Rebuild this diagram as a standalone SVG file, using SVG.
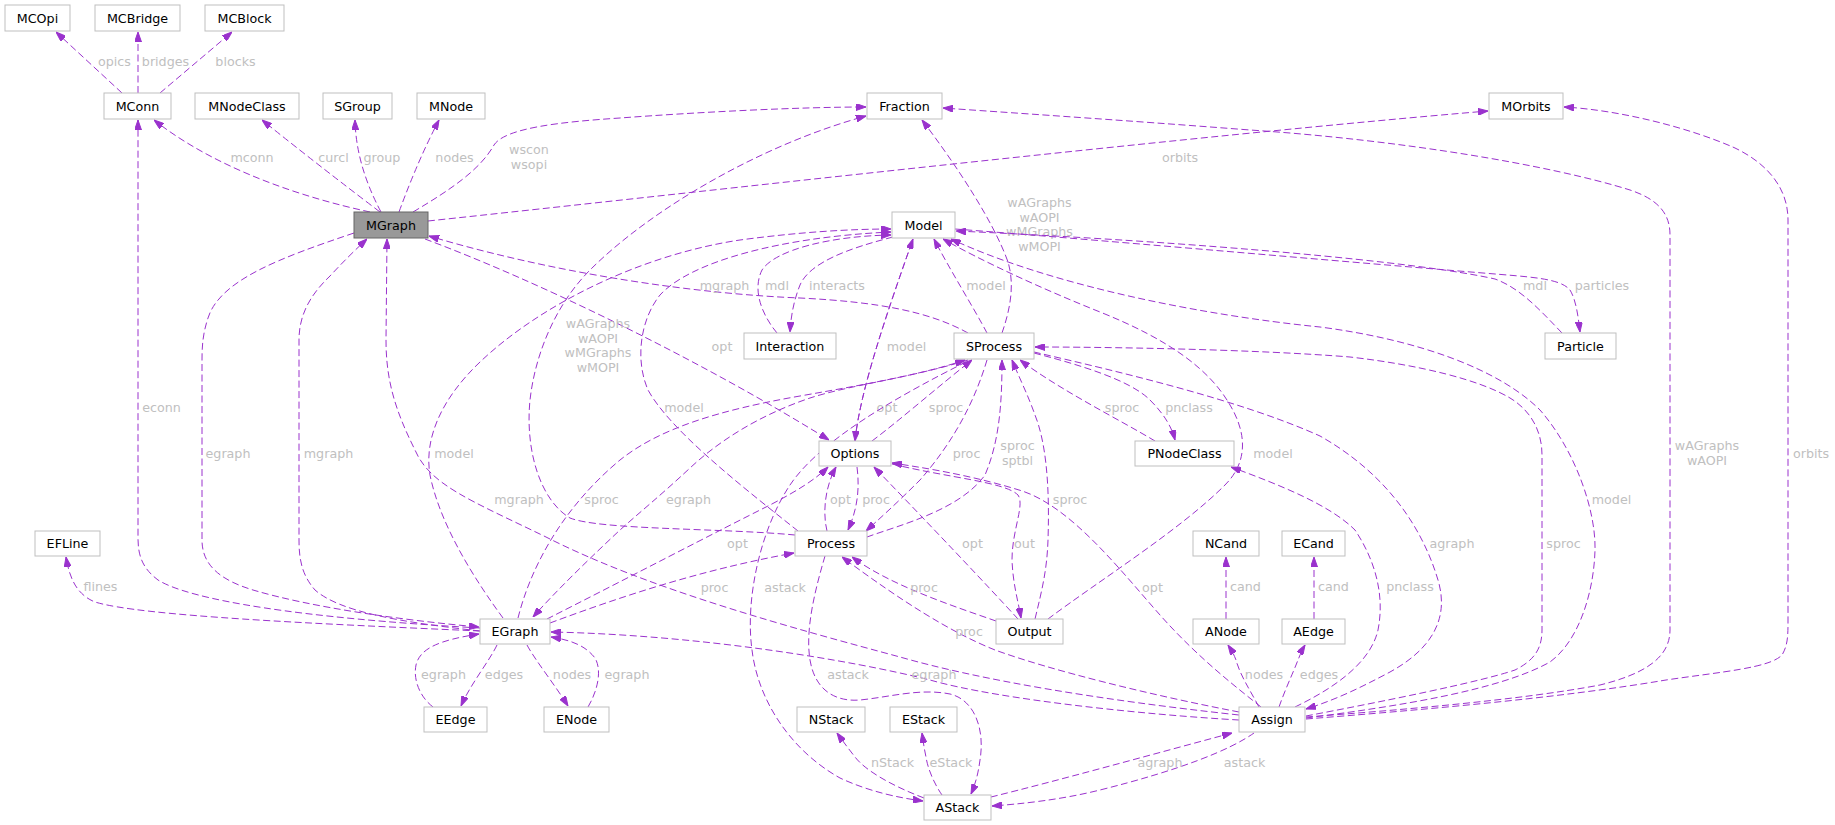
<svg xmlns="http://www.w3.org/2000/svg" width="1835" height="825" viewBox="0 0 1835 825">
<style>
.node rect{fill:#fff;stroke:#bfbfbf;stroke-width:1}
.node text{font-family:"DejaVu Sans",sans-serif;font-size:12.7px;fill:#000;text-anchor:middle}
#node-MGraph rect{fill:#999;stroke:#666}
.edge path{fill:none;stroke:#9a32cd;stroke-width:1;stroke-dasharray:7,3.5;marker-end:url(#arr)}
.edge path.rev{marker-end:none;marker-start:url(#arrS)}
.edge text{font-family:"DejaVu Sans",sans-serif;font-size:12.7px;fill:#c0c0c0;text-anchor:middle}
</style>
<defs>
<marker id="arr" viewBox="0 0 10 7" refX="10" refY="3.5" markerWidth="10" markerHeight="7" markerUnits="userSpaceOnUse" orient="auto"><path d="M0,0L10,3.5L0,7z" fill="#9a32cd" stroke="#9a32cd"/></marker>
<marker id="arrS" viewBox="0 0 10 7" refX="10" refY="3.5" markerWidth="10" markerHeight="7" markerUnits="userSpaceOnUse" orient="auto-start-reverse"><path d="M0,0L10,3.5L0,7z" fill="#9a32cd" stroke="#9a32cd"/></marker>
</defs>
<rect width="1835" height="825" fill="#fff"/>
<g id="edges">
<g class="edge"><path d="M122,93 L56,32"/><text x="114.5" y="65.5">opics</text></g>
<g class="edge"><path d="M138,93 L138,32"/><text x="165.5" y="65.5">bridges</text></g>
<g class="edge"><path d="M160,93 L232,32"/><text x="235.5" y="65.5">blocks</text></g>
<g class="edge"><path d="M370,212 C300,197 215,168 154,120"/><text x="252" y="161.5">mconn</text></g>
<g class="edge"><path d="M380,212 Q318,165 262,120"/><text x="333.5" y="161.5">curcl</text></g>
<g class="edge"><path d="M381,212 Q356,165 355,120"/><text x="382" y="161.5">group</text></g>
<g class="edge"><path d="M399,212 Q418,160 439,120"/><text x="454.5" y="161.5">nodes</text></g>
<g class="edge"><path d="M413,212 C450,190 480,170 494,145 C505,128 560,122 620,118 C700,112 800,107 866,107"/><text x="529" y="153.5">wscon</text><text x="529" y="168.5">wsopi</text></g>
<g class="edge"><path d="M428,221 C700,192 1200,135 1488,111"/><text x="1180" y="161.5">orbits</text></g>
<g class="edge"><path d="M425,239 C540,282 700,360 829,440"/><text x="722" y="350.5">opt</text></g>
<g class="edge"><path d="M480,628 C300,618 190,600 158,580 C142,568 138,555 138,538 L138,120"/><text x="161.5" y="411.5">econn</text></g>
<g class="edge"><path d="M354,233 C280,258 220,280 208,318 C203,333 202,345 202,360 L202,540 C202,565 220,580 253,590 C310,607 400,620 479,627"/><text x="228" y="457.5">egraph</text></g>
<g class="edge"><path d="M480,631 C400,622 340,612 315,590 C302,575 299,560 299,540 L299,340 C299,315 310,295 330,276 C342,263 355,250 367,239"/><text x="328.5" y="457.5">mgraph</text></g>
<g class="edge"><path d="M480,631 C320,624 140,616 95,602 C75,594 69,575 66,557"/><text x="100.5" y="590.5">flines</text></g>
<g class="edge"><path d="M503,618 C475,580 440,525 430,475 C424,440 440,400 480,362 C540,305 640,255 740,240 C800,232 850,229 891,229"/><text x="454" y="457.5">model</text></g>
<g class="edge"><path d="M798,531 C740,485 670,430 648,390 C635,360 640,320 660,295 C690,262 780,237 891,232"/><text x="684" y="411.5">model</text></g>
<g class="edge"><path d="M777,333 C762,315 752,290 762,270 C775,250 830,236 891,235"/><text x="777" y="289.5">mdl</text></g>
<g class="edge"><path d="M893,237 C850,248 810,262 800,285 C794,300 791,315 790,332"/><text x="837" y="289.5">interacts</text></g>
<g class="edge"><path d="M968,333 C930,312 880,302 800,298 C700,294 560,275 429,236"/><text x="724.5" y="289.5">mgraph</text></g>
<g class="edge"><path d="M987,333 C975,310 950,270 934,239"/><text x="986" y="289.5">model</text></g>
<g class="edge"><path d="M1002,333 C1010,310 1015,285 1008,262 C995,225 960,170 922,120"/><text x="1039.5" y="206.5">wAGraphs</text><text x="1039.5" y="221.5">wAOPI</text><text x="1039.5" y="235.5">wMGraphs</text><text x="1039.5" y="250.5">wMOPI</text></g>
<g class="edge"><path d="M795,535 C720,528 600,530 570,518 C540,500 525,450 530,400 C535,355 555,305 590,270 C650,210 760,145 866,116"/><text x="598" y="327.5">wAGraphs</text><text x="598" y="342.5">wAOPI</text><text x="598" y="357">wMGraphs</text><text x="598" y="371.5">wMOPI</text></g>
<g class="edge"><path d="M855,441 C860,390 888,310 913,239"/><text x="906.5" y="350.5">model</text></g>
<g class="edge"><path class="rev" d="M855,441 C860,390 888,310 913,239"/><text x="887" y="411.5">opt</text></g>
<g class="edge"><path d="M872,441 C900,420 940,385 972,360"/><text x="946" y="411.5">sproc</text></g>
<g class="edge"><path d="M518,618 C530,570 560,510 620,460 C660,428 720,410 800,396 C880,382 930,372 965,360"/><text x="601.5" y="503.5">sproc</text></g>
<g class="edge"><path d="M968,360 C910,378 850,385 810,398 C760,415 720,440 690,468 C660,496 640,512 620,530 C590,558 555,592 533,617"/><text x="688.5" y="503.5">egraph</text></g>
<g class="edge"><path d="M966,362 C900,395 820,440 790,485 C760,530 745,600 752,650 C758,700 790,750 840,778 C870,792 900,798 923,801"/><text x="785" y="591.5">astack</text></g>
<g class="edge"><path d="M825,556 C815,590 805,630 810,660 C815,690 835,702 860,700 C890,697 920,688 950,694 C975,700 985,730 980,760 C978,775 975,785 971,794"/><text x="848" y="678.5">astack</text></g>
<g class="edge"><path d="M827,531 C822,510 826,485 836,467"/><text x="840.5" y="503.5">opt</text></g>
<g class="edge"><path d="M857,467 C860,490 857,510 848,530"/><text x="876" y="503.5">proc</text></g>
<g class="edge"><path d="M987,360 C975,400 955,440 920,480 C895,505 878,520 866,531"/><text x="966.5" y="457.5">proc</text></g>
<g class="edge"><path d="M867,537 C900,525 960,510 985,475 C1000,440 1002,400 1002,360"/><text x="1017.5" y="449.5">sproc</text><text x="1017.5" y="464.5">sptbl</text></g>
<g class="edge"><path d="M1034,353 C1080,365 1130,380 1150,400 C1165,415 1172,428 1175,440"/><text x="1189" y="411.5">pnclass</text></g>
<g class="edge"><path d="M1155,441 C1120,420 1060,390 1020,360"/><text x="1122" y="411.5">sproc</text></g>
<g class="edge"><path d="M1035,619 C1042,590 1047,570 1048,540 C1050,480 1045,440 1035,415 C1028,395 1018,375 1012,360"/><text x="1070" y="503.5">sproc</text></g>
<g class="edge"><path d="M892,464 C950,478 1005,482 1018,495 C1025,505 1012,530 1012,560 C1013,585 1018,600 1021,618"/><text x="1024.5" y="547.5">out</text></g>
<g class="edge"><path d="M1018,619 C985,583 930,525 874,467"/><text x="972.5" y="547.5">opt</text></g>
<g class="edge"><path d="M996,621 C950,605 890,585 852,557"/><text x="924" y="591.5">proc</text></g>
<g class="edge"><path d="M1239,712 C1150,695 1050,670 995,650 C950,632 900,600 842,557"/><text x="969" y="635.5">proc</text></g>
<g class="edge"><path d="M550,623 C620,597 700,570 794,553"/><text x="714.5" y="591.5">proc</text></g>
<g class="edge"><path d="M547,619 C620,582 720,530 770,505 C795,492 815,480 828,467"/><text x="737.5" y="547.5">opt</text></g>
<g class="edge"><path d="M1239,720 C1150,715 1000,700 930,680 C850,660 700,635 551,632"/><text x="934" y="678.5">egraph</text></g>
<g class="edge"><path d="M1239,715 C1100,700 980,680 900,657 C800,630 650,590 546,537 C470,500 430,485 415,450 C395,410 386,380 386,340 L387,239"/><text x="519" y="503.5">mgraph</text></g>
<g class="edge"><path d="M1254,733 C1230,750 1180,770 1100,790 C1060,800 1020,804 992,806"/><text x="1244.5" y="766.5">astack</text></g>
<g class="edge"><path d="M991,797 C1060,780 1150,755 1232,733"/><text x="1160" y="766.5">agraph</text></g>
<g class="edge"><path d="M924,798 C890,785 865,770 855,757 C848,748 842,740 837,733"/><text x="892.5" y="766.5">nStack</text></g>
<g class="edge"><path d="M942,795 C935,785 928,770 926,757 C924,748 923,740 922,733"/><text x="951" y="766.5">eStack</text></g>
<g class="edge"><path d="M1226,619 L1226,557"/><text x="1245.5" y="590.5">cand</text></g>
<g class="edge"><path d="M1314,619 L1314,557"/><text x="1333.5" y="590.5">cand</text></g>
<g class="edge"><path d="M1259,707 C1250,690 1240,675 1236,660 C1233,652 1230,648 1228,645"/><text x="1264" y="678.5">nodes</text></g>
<g class="edge"><path d="M1279,707 C1285,690 1292,675 1296,665 C1300,655 1302,650 1305,645"/><text x="1319" y="678.5">edges</text></g>
<g class="edge"><path d="M1306,716 C1380,702 1480,682 1515,670 C1535,660 1542,648 1542,630 L1542,455 C1542,430 1530,410 1510,398 C1480,380 1420,365 1350,357 C1250,349 1100,347 1035,347"/><text x="1563.5" y="547.5">sproc</text></g>
<g class="edge"><path d="M1306,718 C1400,706 1500,690 1550,662 C1580,640 1594,590 1595,550 C1596,510 1575,450 1540,410 C1500,370 1420,340 1320,327 C1200,315 1050,285 951,239"/><text x="1611.5" y="503.5">model</text></g>
<g class="edge"><path d="M1048,619 C1100,580 1180,530 1225,485 C1250,460 1245,430 1230,405 C1210,370 1170,340 1100,312 C1040,288 980,260 943,239"/><text x="1273" y="457.5">model</text></g>
<g class="edge"><path d="M1034,352 C1120,372 1240,400 1320,436 C1380,470 1420,520 1438,580 C1450,620 1430,650 1390,672 C1360,688 1335,700 1306,709"/><text x="1452" y="547.5">agraph</text></g>
<g class="edge"><path d="M1295,707 C1330,690 1370,665 1378,630 C1385,595 1375,560 1355,530 C1330,505 1280,485 1231,467"/><text x="1410" y="590.5">pnclass</text></g>
<g class="edge"><path d="M1261,707 C1240,690 1200,660 1160,615 C1120,570 1070,505 1019,490 C980,478 940,470 892,463"/><text x="1152.5" y="591.5">opt</text></g>
<g class="edge"><path d="M1306,717 C1400,710 1520,700 1600,685 C1640,675 1670,660 1670,630 L1670,235 C1670,215 1660,200 1630,190 C1550,165 1400,140 1250,130 C1120,120 1000,112 943,108"/><text x="1707" y="449.5">wAGraphs</text><text x="1707" y="464.5">wAOPI</text></g>
<g class="edge"><path d="M1306,719 C1420,710 1560,698 1666,680 C1720,672 1770,668 1782,655 C1788,645 1788,635 1788,620 L1788,220 C1788,190 1770,165 1735,148 C1690,128 1620,110 1564,107"/><text x="1811" y="457.5">orbits</text></g>
<g class="edge"><path d="M955,229 C1100,240 1300,258 1483,273 C1530,277 1560,278 1570,290 C1576,300 1578,315 1580,332"/><text x="1602" y="289.5">particles</text></g>
<g class="edge"><path d="M1562,333 C1540,310 1520,288 1495,279 C1420,262 1200,242 956,231"/><text x="1535" y="289.5">mdl</text></g>
<g class="edge"><path d="M497,645 C490,660 470,685 461,706"/><text x="504" y="678.5">edges</text></g>
<g class="edge"><path d="M433,707 C420,697 413,680 416,665 C420,648 440,640 479,634"/><text x="443.5" y="678.5">egraph</text></g>
<g class="edge"><path d="M527,645 C535,660 555,685 568,706"/><text x="572" y="678.5">nodes</text></g>
<g class="edge"><path d="M588,707 C598,690 602,670 595,658 C585,645 570,640 551,637"/><text x="627" y="678.5">egraph</text></g>
</g>
<g id="nodes">
<g class="node" id="node-MCOpi"><rect x="5" y="5" width="65" height="26"/><text x="37.5" y="22.5">MCOpi</text></g>
<g class="node" id="node-MCBridge"><rect x="95" y="5" width="85" height="26"/><text x="137.5" y="22.5">MCBridge</text></g>
<g class="node" id="node-MCBlock"><rect x="205" y="5" width="79" height="26"/><text x="244.5" y="22.5">MCBlock</text></g>
<g class="node" id="node-MConn"><rect x="104" y="93" width="67" height="26"/><text x="137.5" y="110.5">MConn</text></g>
<g class="node" id="node-MNodeClass"><rect x="195" y="93" width="104" height="26"/><text x="247" y="110.5">MNodeClass</text></g>
<g class="node" id="node-SGroup"><rect x="323" y="93" width="69" height="26"/><text x="357.5" y="110.5">SGroup</text></g>
<g class="node" id="node-MNode"><rect x="417" y="93" width="68" height="26"/><text x="451" y="110.5">MNode</text></g>
<g class="node" id="node-Fraction"><rect x="867" y="93" width="75" height="26"/><text x="904.5" y="110.5">Fraction</text></g>
<g class="node" id="node-MOrbits"><rect x="1489" y="93" width="74" height="26"/><text x="1526" y="110.5">MOrbits</text></g>
<g class="node" id="node-MGraph"><rect x="354" y="212" width="74" height="26"/><text x="391" y="229.5">MGraph</text></g>
<g class="node" id="node-Model"><rect x="892" y="212" width="63" height="26"/><text x="923.5" y="229.5">Model</text></g>
<g class="node" id="node-Interaction"><rect x="744" y="333" width="92" height="26"/><text x="790" y="350.5">Interaction</text></g>
<g class="node" id="node-SProcess"><rect x="954" y="333" width="80" height="26"/><text x="994" y="350.5">SProcess</text></g>
<g class="node" id="node-Particle"><rect x="1545" y="333" width="71" height="26"/><text x="1580.5" y="350.5">Particle</text></g>
<g class="node" id="node-Options"><rect x="819" y="441" width="72" height="25"/><text x="855" y="458">Options</text></g>
<g class="node" id="node-PNodeClass"><rect x="1135" y="441" width="99" height="25"/><text x="1184.5" y="458">PNodeClass</text></g>
<g class="node" id="node-EFLine"><rect x="35" y="531" width="65" height="25"/><text x="67.5" y="548">EFLine</text></g>
<g class="node" id="node-Process"><rect x="795" y="531" width="72" height="25"/><text x="831" y="548">Process</text></g>
<g class="node" id="node-NCand"><rect x="1193" y="531" width="66" height="25"/><text x="1226" y="548">NCand</text></g>
<g class="node" id="node-ECand"><rect x="1282" y="531" width="63" height="25"/><text x="1313.5" y="548">ECand</text></g>
<g class="node" id="node-EGraph"><rect x="480" y="619" width="70" height="25"/><text x="515" y="636">EGraph</text></g>
<g class="node" id="node-Output"><rect x="996" y="619" width="67" height="25"/><text x="1029.5" y="636">Output</text></g>
<g class="node" id="node-ANode"><rect x="1193" y="619" width="66" height="25"/><text x="1226" y="636">ANode</text></g>
<g class="node" id="node-AEdge"><rect x="1282" y="619" width="63" height="25"/><text x="1313.5" y="636">AEdge</text></g>
<g class="node" id="node-EEdge"><rect x="424" y="707" width="63" height="25"/><text x="455.5" y="724">EEdge</text></g>
<g class="node" id="node-ENode"><rect x="544" y="707" width="65" height="25"/><text x="576.5" y="724">ENode</text></g>
<g class="node" id="node-NStack"><rect x="797" y="707" width="68" height="25"/><text x="831" y="724">NStack</text></g>
<g class="node" id="node-EStack"><rect x="890" y="707" width="67" height="25"/><text x="923.5" y="724">EStack</text></g>
<g class="node" id="node-Assign"><rect x="1239" y="707" width="66" height="25"/><text x="1272" y="724">Assign</text></g>
<g class="node" id="node-AStack"><rect x="924" y="795" width="67" height="25"/><text x="957.5" y="812">AStack</text></g>
</g>
</svg>
